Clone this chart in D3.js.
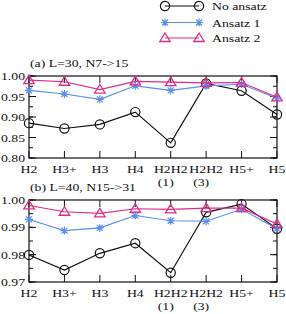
<!DOCTYPE html>
<html>
<head>
<meta charset="utf-8">
<script src="https://cdn.jsdelivr.net/npm/d3@7"></script>
<style>
  body { margin: 0; background: #fff; }
  svg { display: block; }
  text { font-family: "Liberation Serif", "Times New Roman", serif; font-size: 11px; fill: #111; }
</style>
</head>
<body>
<svg id="chart" width="286" height="314"></svg>
<script>
// categories
var cats = ["H2", "H3+", "H3", "H4", "H2H2 (1)", "H2H2 (3)", "H5+", "H5"];
var catLabels = [["H2"], ["H3+"], ["H3"], ["H4"], ["H2H2", "(1)"], ["H2H2", "(3)"], ["H5+"], ["H5"]];
var seriesNames = ["No ansatz", "Ansatz 1", "Ansatz 2"];

// panel (a) L=30
var aNoAnsatz = [0.885, 0.872, 0.882, 0.912, 0.837, 0.982, 0.964, 0.906];
var aAnsatz1  = [0.965, 0.956, 0.943, 0.976, 0.965, 0.976, 0.980, 0.946];
var aAnsatz2  = [0.990, 0.986, 0.967, 0.987, 0.985, 0.983, 0.984, 0.948];

// panel (b) L=40
var bNoAnsatz = [0.9799, 0.9744, 0.9805, 0.9842, 0.9734, 0.9955, 0.9985, 0.9895];
var bAnsatz1  = [0.9929, 0.9888, 0.9898, 0.9943, 0.9924, 0.9922, 0.9966, 0.9895];
var bAnsatz2  = [0.9980, 0.9957, 0.9951, 0.9968, 0.9966, 0.9970, 0.9970, 0.9912];

var aTicks = [0.80, 0.85, 0.90, 0.95, 1.00];
var bTicks = [0.97, 0.98, 0.99, 1.00];

var colors = ["#111111", "#5b8ef2", "#e22a86"];
var svg = d3.select("#chart");
var sx = 1.25; // the glyphs in the picture are stretched sideways

function label(g, x, y, str, anchor) {
  var t = g.append("text")
    .attr("transform", "translate(" + x + "," + y + ") scale(" + sx + ",1)")
    .text(str);
  if (anchor) t.attr("text-anchor", anchor);
  return t;
}

function marker(g, kind, x, y, col) {
  if (kind == 0) {
    g.append("circle").attr("cx", x).attr("cy", y).attr("r", 4.6)
      .attr("fill", "none").attr("stroke", col).attr("stroke-width", 1.2);
  } else if (kind == 1) {
    var s = 4;
    var p = "M" + (x - s) + "," + y + "H" + (x + s) +
      "M" + x + "," + (y - s) + "V" + (y + s) +
      "M" + (x - s * 0.75) + "," + (y - s * 0.75) + "L" + (x + s * 0.75) + "," + (y + s * 0.75) +
      "M" + (x - s * 0.75) + "," + (y + s * 0.75) + "L" + (x + s * 0.75) + "," + (y - s * 0.75);
    g.append("path").attr("d", p).attr("stroke", col).attr("stroke-width", 1.2).attr("fill", "none");
  } else {
    var p2 = "M" + x + "," + (y - 5) + "L" + (x + 5.2) + "," + (y + 3.5) + "L" + (x - 5.2) + "," + (y + 3.5) + "Z";
    g.append("path").attr("d", p2).attr("stroke", col).attr("stroke-width", 1.3).attr("fill", "none");
  }
}

function panel(opts) {
  var g = svg.append("g");
  var x = d3.scalePoint().domain(cats).range([29, 277]);
  var y = d3.scaleLinear().domain(opts.domain).range([opts.bottom, opts.top]);

  // minor ticks
  var minor = d3.range(opts.domain[0], opts.domain[1] + 1e-9, opts.minorStep);
  minor.forEach(function (v) {
    g.append("line").attr("x1", 29).attr("x2", 33).attr("y1", y(v)).attr("y2", y(v)).attr("stroke", "#111");
    g.append("line").attr("x1", 277).attr("x2", 273).attr("y1", y(v)).attr("y2", y(v)).attr("stroke", "#111");
  });
  opts.ticks.forEach(function (v) {
    g.append("line").attr("x1", 29).attr("x2", 36).attr("y1", y(v)).attr("y2", y(v)).attr("stroke", "#111");
    g.append("line").attr("x1", 277).attr("x2", 270).attr("y1", y(v)).attr("y2", y(v)).attr("stroke", "#111");
    label(g, 25, y(v) + 4, v.toFixed(opts.digits), "end");
  });
  cats.forEach(function (c, i) {
    g.append("line").attr("x1", x(c)).attr("x2", x(c)).attr("y1", opts.bottom).attr("y2", opts.bottom - 7).attr("stroke", "#111");
    g.append("line").attr("x1", x(c)).attr("x2", x(c)).attr("y1", opts.top).attr("y2", opts.top + 7).attr("stroke", "#111");
    var l = catLabels[i];
    label(g, x(c), opts.bottom + 15, l[0], "middle");
    if (l.length > 1) label(g, x(c) - 13, opts.bottom + 28, l[1], "start");
  });
  g.append("rect").attr("x", 29).attr("y", opts.top).attr("width", 248).attr("height", opts.bottom - opts.top)
    .attr("fill", "none").attr("stroke", "#111").attr("stroke-width", 1.2);

  label(g, 30, opts.top - 9, opts.title, "start");

  var line = d3.line().x(function (d, i) { return x(cats[i]); }).y(function (d) { return y(d); });
  opts.series.forEach(function (vals, k) {
    g.append("path").attr("d", line(vals)).attr("fill", "none")
      .attr("stroke", colors[k]).attr("stroke-width", k == 1 ? 1.1 : 1.2);
    vals.forEach(function (v, i) { marker(g, k, x(cats[i]), y(v), colors[k]); });
  });
}

panel({
  domain: [0.80, 1.00], top: 76, bottom: 158, ticks: aTicks, minorStep: 0.025, digits: 2,
  title: "(a) L=30, N7->15", series: [aNoAnsatz, aAnsatz1, aAnsatz2]
});
panel({
  domain: [0.97, 1.00], top: 200, bottom: 282, ticks: bTicks, minorStep: 0.005, digits: 2,
  title: "(b) L=40, N15->31", series: [bNoAnsatz, bAnsatz1, bAnsatz2]
});

// legend
var leg = svg.append("g");
var legY = [6, 22.5, 38];
seriesNames.forEach(function (n, k) {
  leg.append("line").attr("x1", 165).attr("x2", 199).attr("y1", legY[k]).attr("y2", legY[k])
    .attr("stroke", colors[k]).attr("stroke-width", 1.2);
  marker(leg, k, 165, legY[k], colors[k]);
  marker(leg, k, 199, legY[k], colors[k]);
  label(leg, 212, legY[k] + 4, n, "start");
});
</script>
</body>
</html>
